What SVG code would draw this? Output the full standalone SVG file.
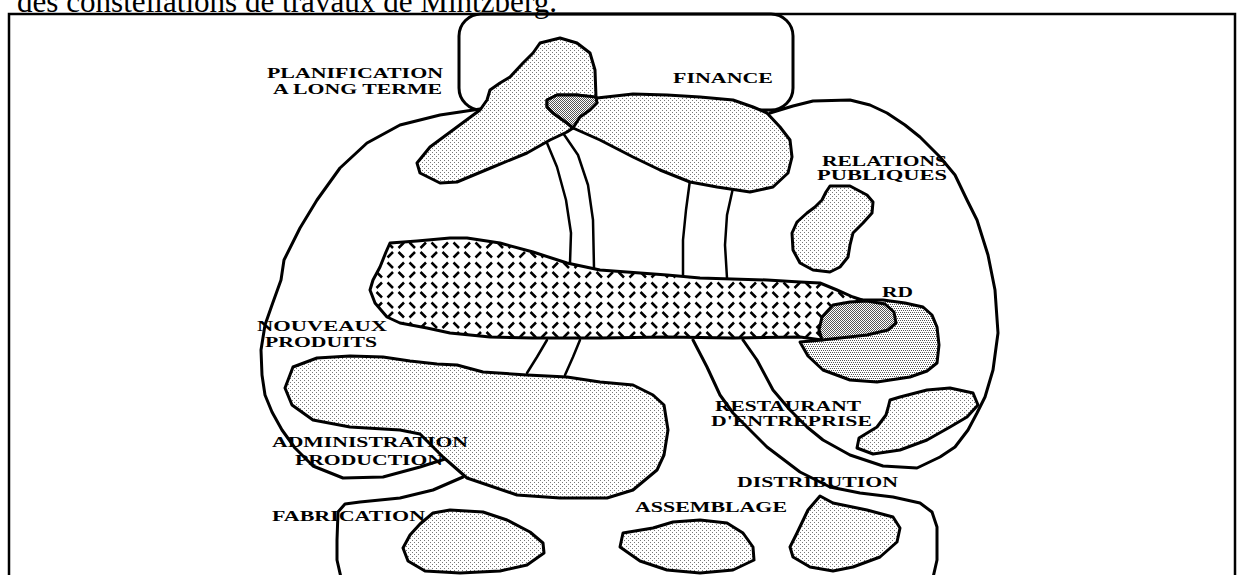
<svg xmlns="http://www.w3.org/2000/svg" width="1241" height="575" viewBox="0 0 1241 575">
<defs>
<pattern id="dot" width="4" height="4" patternUnits="userSpaceOnUse"><rect width="4" height="4" fill="#fff"/><rect x="0" y="0" width="1" height="1" fill="#777"/><rect x="2" y="2" width="1" height="1" fill="#777"/></pattern>
<pattern id="dotmid" width="4" height="4" patternUnits="userSpaceOnUse"><rect width="4" height="4" fill="#fff"/><rect x="0" y="0" width="1" height="1" fill="#555"/><rect x="2" y="0" width="1" height="1" fill="#555"/><rect x="1" y="2" width="1" height="1" fill="#555"/><rect x="3" y="2" width="1" height="1" fill="#555"/></pattern>
<pattern id="dotdark" width="2" height="2" patternUnits="userSpaceOnUse"><rect width="2" height="2" fill="#fff"/><rect x="0" y="0" width="1" height="1" fill="#555"/><rect x="1" y="1" width="1" height="1" fill="#555"/></pattern>
<pattern id="hatch" width="22" height="20" patternUnits="userSpaceOnUse"><rect width="22" height="20" fill="#fff"/><path d="M2.5,8 L8,2.5 M13.5,2.5 L19,8 M2.5,12 L8,17.5 M13.5,17.5 L19,12" stroke="#000" stroke-width="2.5" fill="none" stroke-linecap="butt"/></pattern>
</defs>
<style>
.o{fill:none;stroke:#000;stroke-width:3;stroke-linejoin:round;stroke-linecap:round}
.c{fill:none;stroke:#000;stroke-width:2.5;stroke-linejoin:round;stroke-linecap:round}
.b{fill:url(#dot);stroke:#000;stroke-width:3;stroke-linejoin:round}
.m{fill:url(#dotmid);stroke:#000;stroke-width:3;stroke-linejoin:round}
.d{fill:url(#dotdark);stroke:#000;stroke-width:3;stroke-linejoin:round}
.h{fill:url(#hatch);stroke:#000;stroke-width:3;stroke-linejoin:round}
.l{font-family:"Liberation Serif","Times New Roman",serif;font-weight:bold;font-size:15px;fill:#000}
.t{font-family:"Liberation Serif","Times New Roman",serif;font-size:31px;fill:#000}
</style>
<rect width="1241" height="575" fill="#fff"/>
<text class="t" x="17" y="12" textLength="540" lengthAdjust="spacingAndGlyphs">des constellations de travaux de Mintzberg.</text>
<g id="frame">
<path d="M9,580 L9,14 L1235,14 L1235,580" fill="none" stroke="#000" stroke-width="2.5"/>
</g>
<g id="zone-top">
<rect x="459" y="14" width="334" height="96" rx="22" class="o"/>
</g>
<g id="zone-bottom">
<path class="o" d="M463,477 L433,490 L400,498 L360,502 L345,504 L338,512 L337,540 L337,560 L342,582"/>
<path class="o" d="M830,487 L860,493 L893,497 L920,503 L932,512 L937,527 L937,560 L932,582"/>
</g>
<g id="connectors">
<path class="o" d="M480,109 L440,115 L400,125 L367,143 L340,168 L317,200 L300,228 L284,260 L281,280 L272,305 L265,325 L261,350 L262,375 L265,395 L272,412 L282,430 L295,448 L313,466 L343,478 L383,477 L420,467 L445,459"/>
<path class="o" d="M770,113 L793,106 L813,101 L850,100 L870,105 L887,113 L905,125 L920,137 L940,157 L955,175 L967,200 L977,220 L988,255 L995,290 L998,333 L993,370 L985,397 L977,413 L968,430 L955,447 L940,457 L917,468 L883,466 L850,455 L823,440 L807,427 L790,410 L773,390 L757,360 L743,340"/>
<path class="o" d="M693,340 L707,367 L720,395 L733,413 L767,447 L800,472 L830,487"/>
<path class="c" d="M547,143 L557,167 L566,200 L571,233 L570,263"/>
<path class="c" d="M563,133 L578,155 L588,185 L593,220 L594,268"/>
<path class="c" d="M690,180 L686,210 L683,240 L683,277"/>
<path class="c" d="M733,188 L727,215 L725,245 L727,278"/>
<path class="c" d="M547,340 L537,357 L527,373"/>
<path class="c" d="M580,340 L573,357 L565,375"/>
</g>
<g id="planification">
<path class="b" d="M540,43 L560,38 L577,43 L590,53 L595,70 L596,97 L597,103 L590,110 L580,117 L573,128 L567,132 L550,140 L527,153 L493,167 L457,182 L440,183 L420,173 L417,163 L430,147 L457,127 L480,110 L487,100 L490,90 L500,83 L510,77 L523,63 L533,53 Z"/>
<text class="l" x="267" y="78" textLength="176" lengthAdjust="spacingAndGlyphs">PLANIFICATION</text>
<text class="l" x="273" y="94" textLength="169" lengthAdjust="spacingAndGlyphs">A LONG TERME</text>
</g>
<g id="finance">
<path class="b" d="M547,100 L557,95 L577,95 L597,98 L633,94 L667,95 L700,97 L733,100 L753,107 L767,113 L780,127 L790,140 L792,157 L788,173 L773,187 L750,192 L717,187 L690,182 L660,170 L633,157 L600,140 L573,128 L567,123 L553,113 L547,107 Z"/>
<path class="d" d="M547,100 L557,95 L577,95 L596,97 L597,103 L590,110 L580,117 L573,128 L567,123 L553,113 L547,107 Z"/>
<text class="l" x="673" y="83" textLength="100" lengthAdjust="spacingAndGlyphs">FINANCE</text>
</g>
<g id="relations-publiques">
<path class="b" d="M830,186 L850,186 L867,195 L873,202 L872,213 L863,223 L853,233 L850,245 L848,257 L840,267 L830,272 L813,270 L800,263 L793,250 L792,233 L797,222 L807,213 L815,207 L822,200 L826,192 Z"/>
<text class="l" x="822" y="166" textLength="125" lengthAdjust="spacingAndGlyphs">RELATIONS</text>
<text class="l" x="817" y="180" textLength="130" lengthAdjust="spacingAndGlyphs">PUBLIQUES</text>
</g>
<g id="nouveaux-produits">
<path class="h" d="M390,243 L417,241 L450,238 L467,238 L500,243 L533,252 L567,263 L600,270 L667,275 L700,278 L767,280 L800,282 L820,283 L837,290 L853,297 L862,300 L840,320 L822,340 L800,337 L733,338 L667,337 L600,338 L533,338 L490,337 L450,333 L427,328 L400,323 L387,317 L375,303 L370,290 L373,280 L380,267 L386,252 Z"/>
<text class="l" x="257" y="331" textLength="130" lengthAdjust="spacingAndGlyphs">NOUVEAUX</text>
<text class="l" x="265" y="347" textLength="112" lengthAdjust="spacingAndGlyphs">PRODUITS</text>
</g>
<g id="rd">
<path class="m" d="M858,300 L883,300 L905,303 L923,307 L932,315 L937,327 L939,345 L937,363 L927,371 L910,377 L877,382 L850,380 L823,370 L808,356 L800,342 L822,340 L840,320 Z"/>
<path class="d" d="M833,305 L850,302 L867,301 L885,304 L894,312 L896,323 L888,330 L867,335 L840,338 L822,340 L819,330 L822,317 Z"/>
<text class="l" x="882" y="297" textLength="31" lengthAdjust="spacingAndGlyphs">RD</text>
</g>
<g id="restaurant">
<path class="b" d="M888,408 L890,400 L900,397 L927,390 L950,388 L973,393 L978,405 L967,417 L950,427 L927,440 L900,450 L873,454 L857,448 L859,438 L877,427 L886,415 Z"/>
<text class="l" x="715" y="411" textLength="146" lengthAdjust="spacingAndGlyphs">RESTAURANT</text>
<text class="l" x="711" y="426" textLength="161" lengthAdjust="spacingAndGlyphs">D'ENTREPRISE</text>
</g>
<g id="administration-production">
<path class="b" d="M293,367 L317,358 L350,356 L383,357 L410,361 L437,364 L457,365 L483,372 L527,375 L567,377 L600,382 L633,385 L653,395 L664,405 L668,430 L664,455 L657,470 L633,490 L607,498 L560,498 L517,495 L467,478 L443,457 L420,434 L400,430 L350,427 L313,420 L292,405 L285,388 Z"/>
<text class="l" x="272" y="447" textLength="196" lengthAdjust="spacingAndGlyphs">ADMINISTRATION</text>
<text class="l" x="295" y="465" textLength="148" lengthAdjust="spacingAndGlyphs">PRODUCTION</text>
</g>
<g id="fabrication">
<path class="b" d="M433,513 L450,510 L483,512 L507,520 L530,532 L543,543 L544,553 L527,565 L500,571 L460,573 L425,571 L408,561 L403,548 L410,535 L420,524 Z"/>
<text class="l" x="272" y="521" textLength="153" lengthAdjust="spacingAndGlyphs">FABRICATION</text>
</g>
<g id="assemblage">
<path class="b" d="M623,533 L653,528 L673,522 L700,520 L727,523 L743,533 L753,547 L754,560 L733,570 L700,573 L667,570 L640,561 L620,547 Z"/>
<text class="l" x="635" y="512" textLength="152" lengthAdjust="spacingAndGlyphs">ASSEMBLAGE</text>
</g>
<g id="distribution">
<path class="b" d="M820,496 L833,503 L867,510 L893,517 L900,528 L897,542 L880,557 L853,567 L833,571 L810,567 L793,557 L790,547 L797,533 L808,510 Z"/>
<text class="l" x="737" y="487" textLength="161" lengthAdjust="spacingAndGlyphs">DISTRIBUTION</text>
</g>
</svg>
